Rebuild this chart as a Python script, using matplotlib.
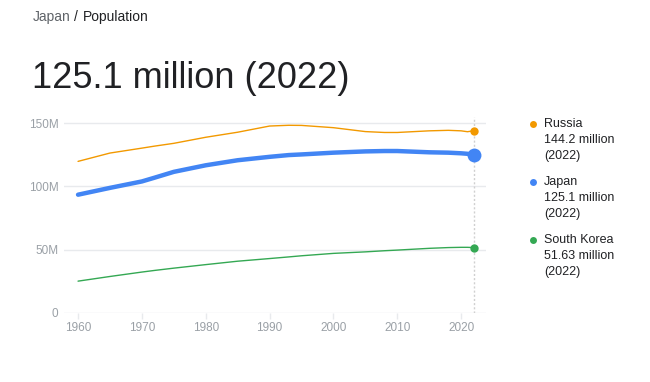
import numpy as np
import matplotlib
matplotlib.use("Agg")
import matplotlib.pyplot as plt
from matplotlib.lines import Line2D

plt.rcParams["font.family"] = ["Liberation Sans", "DejaVu Sans"]

years = [1960, 1965, 1970, 1972, 1975, 1980, 1985, 1990, 1993, 1995, 2000,
         2005, 2008, 2010, 2015, 2018, 2020, 2021, 2022]
russia = [119.9, 126.5, 130.4, 132.0, 134.2, 139.0, 143.0, 147.9, 148.5, 148.4,
          146.6, 143.5, 142.8, 142.8, 144.1, 144.5, 144.1, 143.4, 144.2]
japan = [93.5, 98.9, 104.0, 107.0, 111.6, 116.8, 120.8, 123.5, 124.9, 125.4,
         126.8, 127.8, 128.1, 128.1, 127.1, 126.8, 126.3, 125.9, 125.1]
south_korea = [25.0, 28.7, 32.2, 33.5, 35.3, 38.1, 40.8, 42.9, 44.2, 45.1,
               47.0, 48.2, 49.1, 49.6, 51.0, 51.6, 51.8, 51.8, 51.6]

series = [
    ("Russia", russia, "#f29900", 1.0, 6, "144.2 million"),
    ("Japan", japan, "#4285f4", 3.2, 10, "125.1 million"),
    ("South Korea", south_korea, "#34a853", 1.0, 6, "51.63 million"),
]

y_ticks = [0, 50, 100, 150]
y_labels = ["0", "50M", "100M", "150M"]
x_ticks = [1960, 1970, 1980, 1990, 2000, 2010, 2020]

fig = plt.figure(figsize=(6.5, 3.82), dpi=100)
ax = fig.add_axes([64 / 650, 1 - 312.7 / 382, (486 - 64) / 650, (312.7 - 116.7) / 382])

grid_color = "#e8eaed"
label_color = "#9aa0a6"

for y in y_ticks:
    ax.axhline(y, color=grid_color, linewidth=1, zorder=0)

ax.axvline(2022, color="#d0d0d0", linewidth=1, linestyle=(0, (1.5, 1.5)), zorder=1)

for name, vals, color, lw, ms, _ in series:
    ax.plot(years, vals, color=color, linewidth=lw, solid_capstyle="round",
            solid_joinstyle="round", zorder=3)
    ax.plot(years[-1], vals[-1], "o", color=color, markersize=ms,
            markeredgewidth=0, zorder=4)

ax.set_xlim(1957.8, 2023.9)
ax.set_ylim(0, 155.3)

for s in ax.spines.values():
    s.set_visible(False)

ax.set_yticks(y_ticks)
ax.set_yticklabels(y_labels)
ax.set_xticks(x_ticks)
ax.tick_params(axis="y", length=0, pad=4, labelsize=8.5, labelcolor=label_color)
ax.tick_params(axis="x", length=4, width=1, color=grid_color, pad=3,
               labelsize=8.5, labelcolor=label_color)

# title text
fig.text(33 / 650, 1 - 17 / 382, "Japan", fontsize=10,
         color="#5f6368", va="center", ha="left")
fig.text(74 / 650, 1 - 17 / 382, "/", fontsize=10,
         color="#202124", va="center", ha="left")
fig.text(83 / 650, 1 - 17 / 382, "Population", fontsize=10,
         color="#202124", va="center", ha="left")
fig.text(32 / 650, 1 - 78 / 382, "125.1 million (2022)", fontsize=26,
         color="#202124", va="center", ha="left")

# legend on the right
y0 = 124
for i, (name, vals, color, lw, ms, value) in enumerate(series):
    yy = y0 + i * 58
    fig.add_artist(Line2D([533 / 650], [1 - yy / 382], marker="o", markersize=5,
                          markeredgewidth=0, color=color, linestyle="none",
                          transform=fig.transFigure))
    for j, line in enumerate([name, value, "(2022)"]):
        fig.text(544 / 650, 1 - (yy + j * 16) / 382, line, fontsize=9,
                 color="#202124", va="center", ha="left")

fig.savefig("out.png", dpi=100)
